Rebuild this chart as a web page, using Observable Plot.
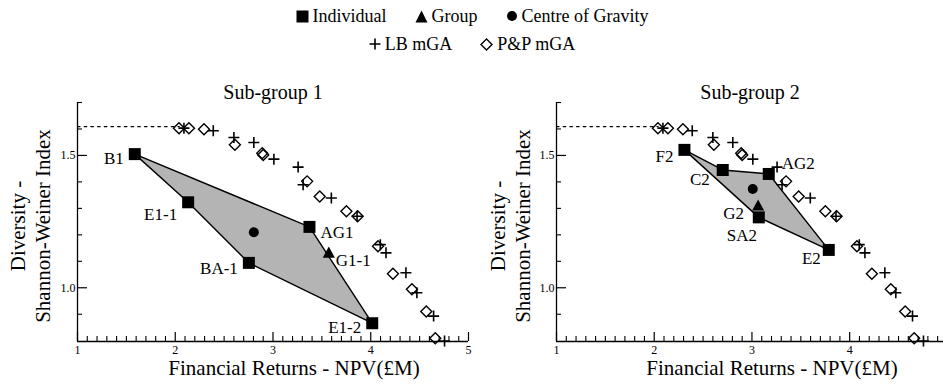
<!DOCTYPE html>
<html><head><meta charset="utf-8">
<script src="https://cdn.jsdelivr.net/npm/d3@7"></script>
<script src="https://cdn.jsdelivr.net/npm/@observablehq/plot@0.6"></script>
<style>
body{margin:0;background:#fff;font-family:"Liberation Serif","Times New Roman",serif;}
#wrap{position:relative;width:944px;height:384px;overflow:hidden;background:#fff;}
.legrow{position:absolute;left:0;width:944px;display:flex;justify-content:center;gap:28px;font-size:18px;line-height:20px;color:#000;}
.item{display:flex;align-items:center;gap:4px;}
.item svg{display:block;}
#p1{position:absolute;left:0;top:60px;}
#p2{position:absolute;left:480px;top:60px;}
.ylab{position:absolute;font-size:21px;line-height:21px;white-space:nowrap;color:#000;transform:translate(-50%,-50%) rotate(-90deg);}
</style></head><body>
<div id="wrap">
  <div class="legrow" style="top:6px">
    <span class="item"><svg width="13" height="13"><rect x="0.5" y="0.5" width="12" height="12" fill="#000"/></svg>Individual</span>
    <span class="item"><svg width="13" height="13"><path d="M6.5,0.5L12.5,12.5L0.5,12.5Z" fill="#000"/></svg>Group</span>
    <span class="item"><svg width="12" height="12"><circle cx="6" cy="6" r="5" fill="#000"/></svg>Centre of Gravity</span>
  </div>
  <div class="legrow" style="top:34px">
    <span class="item"><svg width="12" height="12"><path d="M0.5,6H11.5M6,0.5V11.5" stroke="#000" stroke-width="1.6"/></svg>LB mGA</span>
    <span class="item"><svg width="13" height="13"><path d="M6.5,1L12,6.5L6.5,12L1,6.5Z" fill="none" stroke="#000" stroke-width="1.4"/></svg>P&amp;P mGA</span>
  </div>
  <div id="p1"></div>
  <div id="p2"></div>
</div>
<script>
// ---- Pareto fronts (shared by both panels) ----
const ppNPV = [2.038, 2.140, 2.294, 2.610, 2.890, 2.900, 3.349, 3.478, 3.751, 3.866, 4.074, 4.227, 4.421, 4.568, 4.660];
const ppDiv = [1.603, 1.603, 1.599, 1.540, 1.508, 1.502, 1.402, 1.345, 1.289, 1.270, 1.157, 1.053, 0.994, 0.910, 0.809];
const lbNPV = [2.089, 2.389, 2.600, 2.804, 3.009, 3.257, 3.308, 3.597, 3.860, 4.098, 4.156, 4.360, 4.472, 4.643, 4.755];
const lbDiv = [1.603, 1.593, 1.568, 1.549, 1.486, 1.456, 1.389, 1.339, 1.270, 1.163, 1.132, 1.057, 0.981, 0.893, 0.799];
const maxDivNPV = [1, 2.04];
const maxDivValue = [1.609, 1.609];

// ---- Sub-group 1 ----
const sg1Names = ["B1", "E1-1", "BA-1", "AG1", "E1-2"];
const sg1NPV = [1.586, 2.132, 2.753, 3.373, 4.015];
const sg1Div = [1.505, 1.323, 1.094, 1.230, 0.866];
const sg1Hull = ["B1", "AG1", "E1-2", "BA-1", "E1-1"];
const sg1GroupName = ["G1-1"];
const sg1GroupNPV = [3.571];
const sg1GroupDiv = [1.132];
const sg1CogNPV = [2.804];
const sg1CogDiv = [1.210];

// ---- Sub-group 2 ----
const sg2Names = ["F2", "C2", "AG2", "SA2", "E2"];
const sg2NPV = [2.309, 2.701, 3.172, 3.070, 3.786];
const sg2Div = [1.521, 1.445, 1.430, 1.266, 1.143];
const sg2Hull = ["F2", "C2", "AG2", "E2", "SA2"];
const sg2GroupName = ["G2"];
const sg2GroupNPV = [3.063];
const sg2GroupDiv = [1.310];
const sg2CogNPV = [3.008];
const sg2CogDiv = [1.373];

const majorTicks = [1, 2, 3, 4, 5];
const yTicks = [1.0, 1.5];
const yMinorTicks = [0.9, 1.1, 1.2, 1.3, 1.4, 1.6, 1.7];
const titles = ["Sub-group 1", "Sub-group 2"];
const xLabel = "Financial Returns - NPV(£M)";
const yLabel1 = "Diversity -";
const yLabel2 = "Shannon-Weiner Index";

// ---- label placement (style) ----
const labelStyle = {
  "B1": ["end", -11, 4], "E1-1": ["end", -11, 12], "BA-1": ["end", -11, 6],
  "AG1": ["start", 11, 6], "E1-2": ["end", -11, 4], "G1-1": ["start", 7, 8],
  "F2": ["end", -11, 7], "C2": ["end", -13, 10], "AG2": ["start", 13, -10],
  "SA2": ["middle", -17, 18], "E2": ["end", -8, 9], "G2": ["end", -14, 8]
};

const FONT = '"Liberation Serif","Times New Roman",serif';
const sym = (f) => ({draw(ctx, size) { f(ctx, Math.sqrt(size / Math.PI)); }});
const diamond = sym((c, r) => { c.moveTo(0, -r); c.lineTo(r, 0); c.lineTo(0, r); c.lineTo(-r, 0); c.closePath(); });
const plus = sym((c, r) => { c.moveTo(-r, 0); c.lineTo(r, 0); c.moveTo(0, -r); c.lineTo(0, r); });
const square = sym((c, r) => { c.rect(-r, -r, 2 * r, 2 * r); });
const triUp = sym((c, r) => { c.moveTo(0, -r * 1.05); c.lineTo(r, r * 0.8); c.lineTo(-r, r * 0.8); c.closePath(); });

function panel(o) {
  const indiv = o.names.map((n, i) => ({name: n, npv: o.npv[i], div: o.div[i]}));
  const hullPts = [...o.hull, o.hull[0]].map(n => indiv.find(d => d.name === n));
  const group = o.groupName.map((n, i) => ({name: n, npv: o.groupNPV[i], div: o.groupDiv[i]}));
  const cog = o.cogNPV.map((x, i) => ({npv: x, div: o.cogDiv[i]}));
  const pp = ppNPV.map((x, i) => ({npv: x, div: ppDiv[i]}));
  const lb = lbNPV.map((x, i) => ({npv: x, div: lbDiv[i]}));
  const maxLine = maxDivNPV.map((x, i) => ({npv: x, div: maxDivValue[i]}));
  const minor = d3.range(11, 50).filter(i => i % 10 !== 0).map(i => i / 10).filter(v => v <= o.xMax);
  const major = majorTicks.filter(v => v <= o.xMax);
  const labelMarks = [...indiv, ...group].map(d => {
    const [a, dx, dy] = labelStyle[d.name];
    return Plot.text([d], {x: "npv", y: "div", text: "name", textAnchor: a, dx, dy, fontSize: 17, fill: "black"});
  });
  return Plot.plot({
    width: o.width, height: 324,
    marginLeft: o.marginLeft, marginRight: o.marginRight, marginTop: 42, marginBottom: 43,
    style: {fontFamily: FONT, background: "white", color: "black", overflow: "visible"},
    x: {domain: [1, o.xMax]},
    y: {domain: [0.797, 1.7]},
    marks: [
      Plot.line(hullPts, {x: "npv", y: "div", fill: "#b4b4b4", stroke: "black", strokeWidth: 1.4}),
      Plot.line(maxLine, {x: "npv", y: "div", stroke: "black", strokeWidth: 1.3, strokeDasharray: "2.5,4.2"}),
      Plot.dot(pp, {x: "npv", y: "div", symbol: diamond, r: 5.5, stroke: "black", fill: "none", strokeWidth: 1.4}),
      Plot.dot(lb, {x: "npv", y: "div", symbol: plus, r: 5.5, stroke: "black", fill: "none", strokeWidth: 1.6}),
      Plot.dot(indiv, {x: "npv", y: "div", symbol: square, r: 6, fill: "black", stroke: "none"}),
      Plot.dot(group, {x: "npv", y: "div", symbol: triUp, r: 6, fill: "black", stroke: "none"}),
      Plot.dot(cog, {x: "npv", y: "div", r: 5, fill: "black", stroke: "none"}),
      ...labelMarks,
      Plot.ruleX([1], {stroke: "black", strokeWidth: 1.3}),
      Plot.ruleY([0.797], {stroke: "black", strokeWidth: 1.3}),
      Plot.axisX(major, {tickSize: -9, strokeWidth: 1.2, fill: "none", label: null}),
      Plot.axisX(minor, {tickSize: -5, strokeWidth: 1.1, fill: "none", label: null}),
      Plot.axisX(major, {tickSize: 0, tickPadding: 4, fontSize: 12, label: null, tickFormat: d => String(d)}),
      Plot.axisY(yTicks, {tickSize: -10, strokeWidth: 1.2, fill: "none", label: null}),
      Plot.axisY(yMinorTicks, {tickSize: -5, strokeWidth: 1.1, fill: "none", label: null}),
      Plot.axisY(yTicks, {tickSize: 0, tickPadding: 2, fontSize: 12, tickFormat: d => d.toFixed(1), label: null}),
      Plot.text([o.title], {frameAnchor: "top", dy: -18, fontSize: 20, fill: "black"}),
      Plot.text([xLabel], {frameAnchor: "bottom", dx: o.xLabelDx, dy: 33, fontSize: 21, fill: "black"})
    ]
  });
}

function addYLabels(left) {
  const wrap = document.getElementById("wrap");
  [[yLabel1, 18], [yLabel2, 43]].forEach(([t, cx]) => {
    const d = document.createElement("div");
    d.className = "ylab";
    d.textContent = t;
    d.style.left = (left + cx) + "px";
    d.style.top = "226px";
    wrap.append(d);
  });
}

document.getElementById("p1").append(panel({
  width: 480, marginLeft: 77, marginRight: 12, xMax: 5, title: titles[0], xLabelDx: 21,
  names: sg1Names, npv: sg1NPV, div: sg1Div, hull: sg1Hull,
  groupName: sg1GroupName, groupNPV: sg1GroupNPV, groupDiv: sg1GroupDiv,
  cogNPV: sg1CogNPV, cogDiv: sg1CogDiv
}));
document.getElementById("p2").append(panel({
  width: 464, marginLeft: 76, marginRight: 1, xMax: 4.96, title: titles[1], xLabelDx: 22,
  names: sg2Names, npv: sg2NPV, div: sg2Div, hull: sg2Hull,
  groupName: sg2GroupName, groupNPV: sg2GroupNPV, groupDiv: sg2GroupDiv,
  cogNPV: sg2CogNPV, cogDiv: sg2CogDiv
}));
addYLabels(0);
addYLabels(480);
</script>
</body></html>
